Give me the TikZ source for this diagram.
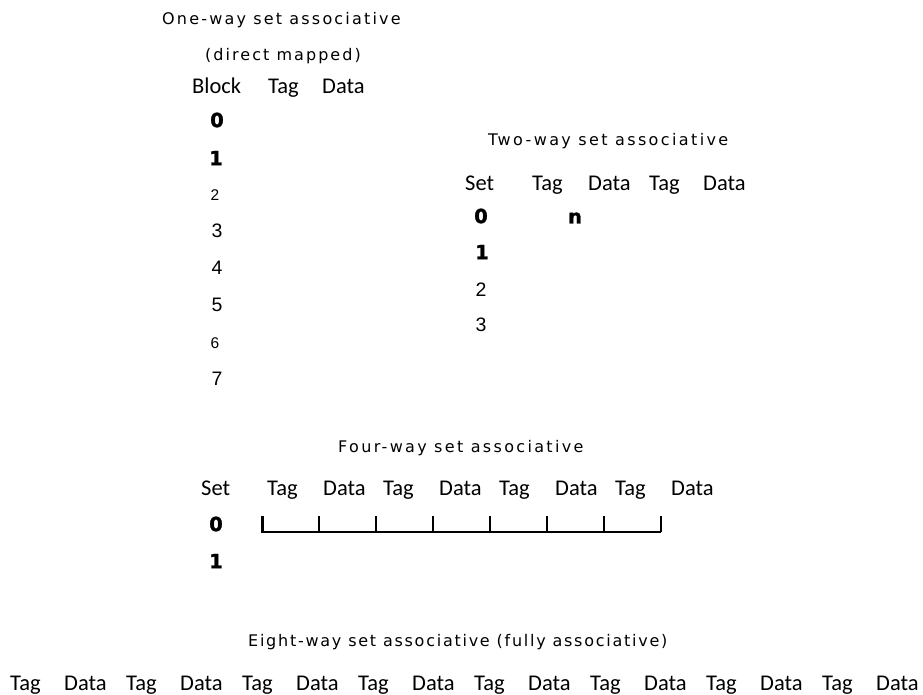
\documentclass[tikz,border=0pt]{standalone}
\usepackage{fontspec}
\setmainfont{Carlito}
\newfontfamily\titlefont{DejaVu Sans}
\newfontfamily\numfont{Liberation Sans}
\newfontfamily\heavyfont[FakeBold=1.5]{DejaVu Sans Bold}
\usetikzlibrary{positioning}

\begin{document}
\begin{tikzpicture}[
  x=1pt, y=-1pt,
  title/.style={font=\titlefont\fontsize{16}{19}\selectfont, anchor=base west, inner sep=0pt},
  hdr/.style={font=\fontsize{22.5}{27}\selectfont, anchor=base west, inner sep=0pt},
  idx/.style={font=\numfont\fontsize{19.5}{23}\selectfont, inner sep=0pt},
  idxsmall/.style={font=\numfont\fontsize{15.5}{18}\selectfont, inner sep=0pt},
  idxbold/.style={font=\heavyfont\fontsize{19.5}{23}\selectfont, inner sep=0pt},
  rule/.style={line width=1.8pt}
]
  \useasboundingbox (0,0) rectangle (923,694);

  % --- One-way (direct mapped) ---
  \node[title] (onetitle) at (162, 24) {\addfontfeature{LetterSpace=13.7}One-way set associative};
  \node[title] (onesub)   at (205, 60) {\addfontfeature{LetterSpace=12.8}(direct mapped)};
  \node[hdr] (oneblock) at (192, 93) {Block};
  \node[hdr] (onetag)   at (268, 93) {Tag};
  \node[hdr] (onedata)  at (322, 93) {Data};
  \node[idxbold]  (blk0) at (217, 120) {0};
  \node[idxbold]  (blk1) at (216, 158) {1};
  \node[idxsmall] (blk2) at (215, 195) {2};
  \node[idx]      (blk3) at (217, 231) {3};
  \node[idx]      (blk4) at (217, 268) {4};
  \node[idx]      (blk5) at (217, 305) {5};
  \node[idxsmall] (blk6) at (215, 343) {6};
  \node[idx]      (blk7) at (217, 379) {7};

  % --- Two-way ---
  \node[title] (twotitle) at (488, 145) {\addfontfeature{LetterSpace=14.9}Two-way set associative};
  \node[hdr] (twoset)   at (465, 190) {Set};
  \node[hdr] (twotag0)  at (532, 190) {Tag};
  \node[hdr] (twodata0) at (588, 190) {Data};
  \node[hdr] (twotag1)  at (649, 190) {Tag};
  \node[hdr] (twodata1) at (703, 190) {Data};
  \node[idxbold] (set0) at (481, 216) {0};
  \node[idxbold] (twon) at (575, 218) {n};
  \node[idxbold] (set1) at (482, 252) {1};
  \node[idx]     (set2) at (481, 290) {2};
  \node[idx]     (set3) at (481, 325) {3};

  % --- Four-way ---
  \node[title] (fourtitle) at (338, 452) {\addfontfeature{LetterSpace=14.6}Four-way set associative};
  \node[hdr] (fourset) at (201, 495) {Set};
  \foreach \k in {0,...,3} {
    \node[hdr] (fourtag\k)  at (267+116*\k, 495) {Tag};
    \node[hdr] (fourdata\k) at (323+116*\k, 495) {Data};
  }
  \node[idxbold] (fset0) at (216, 524) {0};
  \node[idxbold] (fset1) at (216, 561) {1};
  \draw[rule] (262, 532) -- (661, 532);
  \draw[line width=3pt] (262, 516) -- (262, 533);
  \foreach \k in {1,...,7}
    \draw[line width=1.6pt] (262+57*\k, 516) -- (262+57*\k, 532);

  % --- Eight-way (fully associative) ---
  \node[title] (eighttitle) at (248, 646) {\addfontfeature{LetterSpace=10.9}Eight-way set associative (fully associative)};
  \foreach \k in {0,...,7} {
    \node[hdr] (eighttag\k)  at (10+116*\k, 690) {Tag};
    \node[hdr] (eightdata\k) at (64+116*\k, 690) {Data};
  }
\end{tikzpicture}
\end{document}
